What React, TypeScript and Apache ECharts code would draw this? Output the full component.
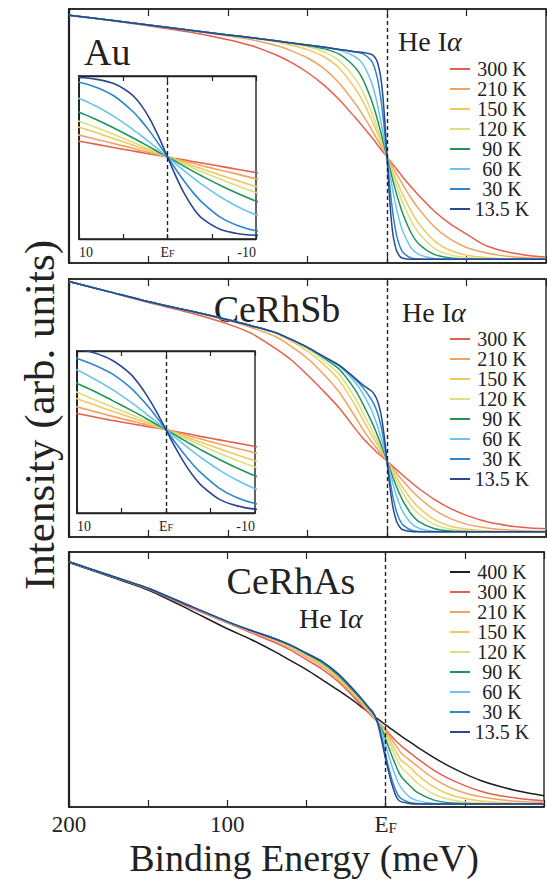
import React, { useEffect, useRef } from 'react';
import * as echarts from 'echarts';

// Binding energy (meV) sample points, shared by every curve
const energy = [200, 175, 150, 125, 100, 85, 70, 60, 50, 40, 30, 20, 15, 10, 8, 6, 4, 3, 2, 1, 0, -1, -2, -3, -4, -6, -8, -10, -15, -20, -30, -40, -50, -60, -70, -80, -90, -100];

const temps = ['300 K', '210 K', '150 K', '120 K', '90 K', '60 K', '30 K', '13.5 K'];
const tempsAs = ['400 K', '300 K', '210 K', '150 K', '120 K', '90 K', '60 K', '30 K', '13.5 K'];

// Au (intensity, arb. units)
const au300 = [0.975, 0.956, 0.934, 0.910, 0.879, 0.855, 0.820, 0.789, 0.750, 0.702, 0.643, 0.573, 0.536, 0.498, 0.482, 0.465, 0.449, 0.441, 0.433, 0.426, 0.418, 0.409, 0.402, 0.393, 0.386, 0.370, 0.354, 0.338, 0.301, 0.266, 0.203, 0.153, 0.114, 0.075, 0.052, 0.038, 0.029, 0.024];
const au210 = [0.975, 0.957, 0.937, 0.916, 0.894, 0.879, 0.857, 0.835, 0.807, 0.767, 0.708, 0.628, 0.581, 0.529, 0.507, 0.485, 0.463, 0.451, 0.440, 0.429, 0.418, 0.406, 0.395, 0.384, 0.372, 0.350, 0.329, 0.307, 0.257, 0.213, 0.141, 0.093, 0.061, 0.043, 0.031, 0.024, 0.020, 0.018];
const au150 = [0.975, 0.957, 0.937, 0.917, 0.898, 0.886, 0.871, 0.857, 0.840, 0.813, 0.767, 0.687, 0.634, 0.569, 0.541, 0.510, 0.480, 0.464, 0.449, 0.433, 0.418, 0.402, 0.386, 0.371, 0.355, 0.325, 0.296, 0.268, 0.206, 0.155, 0.086, 0.049, 0.031, 0.023, 0.018, 0.017, 0.016, 0.015];
const au120 = [0.975, 0.957, 0.937, 0.917, 0.898, 0.886, 0.874, 0.863, 0.851, 0.832, 0.796, 0.726, 0.672, 0.600, 0.567, 0.531, 0.494, 0.475, 0.456, 0.437, 0.418, 0.398, 0.379, 0.359, 0.341, 0.304, 0.269, 0.237, 0.168, 0.118, 0.057, 0.032, 0.022, 0.018, 0.016, 0.015, 0.015, 0.015];
const au90 = [0.975, 0.957, 0.937, 0.917, 0.898, 0.887, 0.875, 0.866, 0.856, 0.844, 0.822, 0.770, 0.721, 0.645, 0.607, 0.564, 0.517, 0.493, 0.468, 0.442, 0.418, 0.393, 0.367, 0.342, 0.318, 0.272, 0.230, 0.193, 0.121, 0.075, 0.033, 0.020, 0.016, 0.015, 0.015, 0.015, 0.015, 0.015];
const au60 = [0.975, 0.957, 0.937, 0.917, 0.898, 0.887, 0.875, 0.866, 0.858, 0.849, 0.838, 0.812, 0.782, 0.716, 0.675, 0.623, 0.561, 0.527, 0.492, 0.455, 0.418, 0.380, 0.343, 0.308, 0.274, 0.214, 0.163, 0.124, 0.061, 0.034, 0.018, 0.016, 0.015, 0.015, 0.015, 0.015, 0.015, 0.015];
const au30 = [0.975, 0.957, 0.937, 0.917, 0.898, 0.887, 0.875, 0.866, 0.858, 0.850, 0.841, 0.831, 0.823, 0.798, 0.772, 0.727, 0.653, 0.604, 0.548, 0.484, 0.418, 0.351, 0.288, 0.231, 0.183, 0.110, 0.067, 0.042, 0.020, 0.016, 0.015, 0.015, 0.015, 0.015, 0.015, 0.015, 0.015, 0.015];
const au13 = [0.975, 0.957, 0.937, 0.917, 0.898, 0.887, 0.875, 0.866, 0.858, 0.850, 0.841, 0.832, 0.829, 0.822, 0.813, 0.790, 0.734, 0.683, 0.612, 0.521, 0.418, 0.314, 0.223, 0.152, 0.102, 0.048, 0.027, 0.019, 0.015, 0.015, 0.015, 0.015, 0.015, 0.015, 0.015, 0.015, 0.015, 0.015];

// CeRhSb
const sb300 = [0.990, 0.950, 0.909, 0.871, 0.825, 0.788, 0.730, 0.685, 0.628, 0.566, 0.500, 0.420, 0.382, 0.350, 0.338, 0.326, 0.316, 0.311, 0.305, 0.301, 0.295, 0.289, 0.284, 0.278, 0.272, 0.261, 0.250, 0.239, 0.213, 0.188, 0.145, 0.110, 0.084, 0.064, 0.050, 0.041, 0.035, 0.032];
const sb210 = [0.990, 0.951, 0.912, 0.877, 0.839, 0.811, 0.776, 0.738, 0.692, 0.632, 0.561, 0.466, 0.416, 0.372, 0.356, 0.340, 0.325, 0.318, 0.310, 0.303, 0.295, 0.287, 0.279, 0.271, 0.263, 0.247, 0.232, 0.218, 0.183, 0.153, 0.104, 0.071, 0.050, 0.038, 0.030, 0.026, 0.023, 0.022];
const sb150 = [0.990, 0.951, 0.912, 0.878, 0.842, 0.817, 0.788, 0.758, 0.720, 0.670, 0.607, 0.510, 0.453, 0.399, 0.378, 0.357, 0.337, 0.326, 0.316, 0.305, 0.295, 0.284, 0.273, 0.262, 0.252, 0.231, 0.210, 0.191, 0.148, 0.114, 0.067, 0.042, 0.031, 0.025, 0.022, 0.021, 0.020, 0.020];
const sb120 = [0.990, 0.951, 0.912, 0.878, 0.842, 0.818, 0.791, 0.763, 0.729, 0.685, 0.630, 0.538, 0.480, 0.421, 0.396, 0.371, 0.347, 0.334, 0.321, 0.308, 0.295, 0.281, 0.268, 0.255, 0.242, 0.216, 0.192, 0.170, 0.123, 0.089, 0.048, 0.031, 0.024, 0.022, 0.020, 0.020, 0.020, 0.020];
const sb90 = [0.990, 0.951, 0.912, 0.878, 0.842, 0.818, 0.792, 0.765, 0.734, 0.695, 0.650, 0.570, 0.514, 0.451, 0.424, 0.393, 0.362, 0.346, 0.329, 0.312, 0.295, 0.278, 0.260, 0.243, 0.226, 0.195, 0.166, 0.140, 0.091, 0.060, 0.032, 0.023, 0.021, 0.020, 0.020, 0.020, 0.020, 0.020];
const sb60 = [0.990, 0.951, 0.912, 0.878, 0.842, 0.818, 0.792, 0.765, 0.735, 0.699, 0.662, 0.599, 0.554, 0.496, 0.465, 0.430, 0.389, 0.367, 0.343, 0.320, 0.295, 0.270, 0.246, 0.222, 0.200, 0.159, 0.125, 0.097, 0.054, 0.034, 0.022, 0.020, 0.020, 0.020, 0.020, 0.020, 0.020, 0.020];
const sb30 = [0.990, 0.951, 0.912, 0.878, 0.842, 0.818, 0.792, 0.765, 0.735, 0.700, 0.665, 0.612, 0.578, 0.535, 0.512, 0.482, 0.437, 0.407, 0.373, 0.335, 0.295, 0.254, 0.215, 0.179, 0.148, 0.098, 0.066, 0.047, 0.027, 0.021, 0.020, 0.020, 0.020, 0.020, 0.020, 0.020, 0.020, 0.020];
const sb13 = [0.990, 0.951, 0.912, 0.878, 0.842, 0.818, 0.792, 0.765, 0.735, 0.700, 0.665, 0.615, 0.589, 0.567, 0.553, 0.528, 0.483, 0.447, 0.403, 0.352, 0.295, 0.238, 0.186, 0.142, 0.107, 0.061, 0.039, 0.028, 0.021, 0.020, 0.020, 0.020, 0.020, 0.020, 0.020, 0.020, 0.020, 0.020];

// CeRhAs
const as400 = [0.959, 0.906, 0.851, 0.777, 0.699, 0.657, 0.609, 0.574, 0.539, 0.499, 0.458, 0.415, 0.391, 0.368, 0.359, 0.350, 0.341, 0.336, 0.331, 0.326, 0.322, 0.318, 0.313, 0.308, 0.304, 0.295, 0.286, 0.277, 0.256, 0.235, 0.196, 0.160, 0.130, 0.104, 0.084, 0.068, 0.055, 0.044];
const as300 = [0.962, 0.909, 0.855, 0.786, 0.722, 0.683, 0.645, 0.615, 0.578, 0.540, 0.492, 0.430, 0.397, 0.364, 0.351, 0.339, 0.328, 0.322, 0.316, 0.310, 0.303, 0.296, 0.289, 0.282, 0.275, 0.262, 0.250, 0.239, 0.214, 0.190, 0.146, 0.111, 0.084, 0.062, 0.047, 0.037, 0.029, 0.024];
const as210 = [0.962, 0.910, 0.857, 0.790, 0.724, 0.688, 0.653, 0.624, 0.588, 0.550, 0.500, 0.438, 0.405, 0.370, 0.355, 0.341, 0.328, 0.321, 0.314, 0.306, 0.297, 0.289, 0.280, 0.271, 0.262, 0.245, 0.227, 0.210, 0.185, 0.160, 0.113, 0.078, 0.055, 0.040, 0.030, 0.024, 0.020, 0.018];
const as150 = [0.962, 0.910, 0.858, 0.791, 0.725, 0.690, 0.656, 0.628, 0.593, 0.556, 0.506, 0.443, 0.410, 0.374, 0.358, 0.342, 0.327, 0.319, 0.310, 0.300, 0.290, 0.279, 0.268, 0.257, 0.245, 0.222, 0.200, 0.182, 0.158, 0.127, 0.080, 0.050, 0.033, 0.024, 0.019, 0.016, 0.014, 0.013];
const as120 = [0.962, 0.910, 0.858, 0.792, 0.726, 0.691, 0.658, 0.631, 0.597, 0.561, 0.512, 0.448, 0.414, 0.377, 0.360, 0.343, 0.326, 0.316, 0.305, 0.293, 0.281, 0.268, 0.255, 0.242, 0.228, 0.201, 0.176, 0.155, 0.125, 0.094, 0.052, 0.030, 0.020, 0.016, 0.014, 0.013, 0.012, 0.012];
const as90 = [0.962, 0.910, 0.858, 0.792, 0.727, 0.692, 0.659, 0.633, 0.600, 0.565, 0.516, 0.452, 0.418, 0.380, 0.363, 0.344, 0.323, 0.311, 0.298, 0.283, 0.266, 0.249, 0.232, 0.216, 0.200, 0.169, 0.140, 0.118, 0.085, 0.057, 0.028, 0.017, 0.014, 0.013, 0.012, 0.012, 0.012, 0.012];
const as60 = [0.962, 0.910, 0.858, 0.792, 0.727, 0.692, 0.660, 0.634, 0.602, 0.568, 0.520, 0.456, 0.421, 0.382, 0.366, 0.345, 0.318, 0.302, 0.284, 0.264, 0.242, 0.221, 0.200, 0.180, 0.160, 0.124, 0.095, 0.073, 0.040, 0.025, 0.015, 0.013, 0.012, 0.012, 0.012, 0.012, 0.012, 0.012];
const as30 = [0.962, 0.910, 0.858, 0.792, 0.727, 0.692, 0.660, 0.635, 0.603, 0.570, 0.522, 0.458, 0.423, 0.384, 0.369, 0.346, 0.311, 0.288, 0.262, 0.234, 0.205, 0.178, 0.152, 0.128, 0.106, 0.070, 0.045, 0.032, 0.018, 0.014, 0.012, 0.012, 0.012, 0.012, 0.012, 0.012, 0.012, 0.012];
const as13 = [0.962, 0.910, 0.858, 0.792, 0.727, 0.692, 0.660, 0.635, 0.603, 0.570, 0.522, 0.458, 0.423, 0.385, 0.372, 0.347, 0.302, 0.275, 0.245, 0.216, 0.188, 0.160, 0.135, 0.110, 0.088, 0.050, 0.028, 0.020, 0.014, 0.012, 0.012, 0.012, 0.012, 0.012, 0.012, 0.012, 0.012, 0.012];

const mainTickLabels = [200, 100, 0];
const insetTickLabels = [10, 0, -10];

const colors: Record<string, string> = {
  '400 K': '#1e1e1e',
  '300 K': '#e4604e',
  '210 K': '#f2a25e',
  '150 K': '#f0c95e',
  '120 K': '#dcdf7c',
  '90 K': '#1f9458',
  '60 K': '#6cc4ec',
  '30 K': '#2c86cc',
  '13.5 K': '#2a4790',
};

const serif = 'Liberation Serif';
const ink = '#222';

export default function App() {
  const ref = useRef<HTMLDivElement>(null);

  useEffect(() => {
    if (!ref.current) return;
    const chart = echarts.init(ref.current, null, { renderer: 'svg' });

    const auSet = [au300, au210, au150, au120, au90, au60, au30, au13];
    const sbSet = [sb300, sb210, sb150, sb120, sb90, sb60, sb30, sb13];
    const asSet = [as400, as300, as210, as150, as120, as90, as60, as30, as13];

    const efMark = {
      silent: true,
      symbol: ['none', 'none'],
      label: { show: false },
      lineStyle: { color: ink, type: [4, 3], width: 1.4 },
      emphasis: { disabled: true },
      data: [{ xAxis: 0 }],
    };

    const lines = (sets: number[][], names: string[], xi: number, yi: number, width: number) =>
      sets.map((vals, k) => ({
        type: 'line',
        name: names[k],
        xAxisIndex: xi,
        yAxisIndex: yi,
        data: energy.map((e, i) => [e, vals[i]]),
        showSymbol: false,
        symbol: 'none',
        smooth: 0.25,
        color: colors[names[k]],
        lineStyle: { color: colors[names[k]], width },
        silent: true,
        emphasis: { disabled: true },
        markLine: k === sets.length - 1 ? efMark : undefined,
      }));

    const efRich = (big: number, small: number) => ({
      e: { fontSize: big, fontFamily: serif, color: ink, lineHeight: big },
      f: { fontSize: small, fontFamily: serif, color: ink, lineHeight: big, verticalAlign: 'bottom', padding: [0, 0, 1, 0] },
    });

    const tick = (len: number) => ({ show: true, inside: true, length: len, lineStyle: { color: ink, width: 1.2 } });
    const axLine = (w: number) => ({ show: true, onZero: false, lineStyle: { color: ink, width: w } });

    const mainX = (gi: number, pos: string, labels: boolean) => ({
      type: 'value', gridIndex: gi, position: pos, min: -100, max: 200, interval: 50, inverse: true,
      axisLine: axLine(1.6), axisTick: tick(7), splitLine: { show: false },
      axisLabel: labels
        ? {
            show: true, margin: 6, color: ink, fontFamily: serif, fontSize: 23,
            showMinLabel: true, showMaxLabel: true,
            formatter: (v: number) => (mainTickLabels.includes(v) ? (v === 0 ? '{e|E}{f|F}' : String(v)) : ''),
            rich: efRich(23, 15),
          }
        : { show: false },
    });

    const insetX = (gi: number, pos: string, labels: boolean) => ({
      type: 'value', gridIndex: gi, position: pos, min: -10, max: 10, interval: 5, inverse: true,
      axisLine: axLine(1.4), axisTick: tick(5), splitLine: { show: false },
      axisLabel: labels
        ? {
            show: true, margin: 6, color: ink, fontFamily: serif, fontSize: 14,
            showMinLabel: true, showMaxLabel: true,
            alignMinLabel: 'right', alignMaxLabel: 'left',
            formatter: (v: number) => (insetTickLabels.includes(v) ? (v === 0 ? '{e|E}{f|F}' : String(v)) : ''),
            rich: efRich(14, 10),
          }
        : { show: false },
    });

    const yAx = (gi: number, min: number, max: number, w: number) => ({
      type: 'value', gridIndex: gi, min, max,
      axisLine: axLine(w), axisTick: { show: false }, axisLabel: { show: false }, splitLine: { show: false },
    });

    const legendBase = {
      orient: 'vertical', left: 450, itemWidth: 20, itemHeight: 2, itemGap: 0, icon: 'rect', padding: 0,
      selectedMode: false, formatter: '{t|{name}}',
    };
    const legendText = (lh: number) => ({
      fontFamily: serif, fontSize: 20, color: ink,
      rich: { t: { width: 54, align: 'center', fontSize: 20, lineHeight: lh, fontFamily: serif, color: ink } },
    });

    const heIa = (x: number, y: number) => ({
      type: 'text', x, y,
      style: {
        text: '{n|He I}{a|α}',
        rich: {
          n: { fontSize: 28, fontFamily: serif, fill: ink, color: ink },
          a: { fontSize: 28, fontFamily: serif, fontStyle: 'italic', fill: ink, color: ink },
        },
        align: 'left', verticalAlign: 'middle', textAlign: 'left', textVerticalAlign: 'middle',
      },
    });
    const label = (text: string, x: number, y: number, size: number, align: string, rot = 0) => ({
      type: 'text', x, y, rotation: rot,
      style: {
        text, fontSize: size, fontFamily: serif, font: `${size}px "${serif}"`, fill: ink,
        align, verticalAlign: 'middle', textAlign: align, textVerticalAlign: 'middle',
      },
    });

    const gridStyle = { show: true, borderColor: ink, borderWidth: 1.4, containLabel: false };

    chart.setOption({
      animation: false,
      backgroundColor: '#fff',
      textStyle: { fontFamily: serif },
      grid: [
        { ...gridStyle, left: 69, top: 9, width: 477, height: 254 },
        { ...gridStyle, left: 69, top: 279, width: 477, height: 258 },
        { ...gridStyle, left: 69, top: 552, width: 477, height: 255 },
        { ...gridStyle, left: 79, top: 76, width: 177, height: 163, backgroundColor: '#fff' },
        { ...gridStyle, left: 77, top: 351, width: 178, height: 162, backgroundColor: '#fff' },
      ],
      xAxis: [
        mainX(0, 'bottom', false), mainX(0, 'top', false),
        mainX(1, 'bottom', false), mainX(1, 'top', false),
        mainX(2, 'bottom', true), mainX(2, 'top', false),
        insetX(3, 'bottom', true), insetX(3, 'top', false),
        insetX(4, 'bottom', true), insetX(4, 'top', false),
      ],
      yAxis: [
        yAx(0, 0, 1, 2.2), yAx(1, 0, 1, 2.2), yAx(2, 0, 1, 2.2),
        yAx(3, 0, 0.83, 1.8), yAx(4, 0.015, 0.56, 1.8),
      ],
      legend: [
        { ...legendBase, top: 59, data: temps, textStyle: legendText(21.4) },
        { ...legendBase, top: 329, data: temps, textStyle: legendText(21.4) },
        { ...legendBase, top: 562, data: tempsAs, textStyle: legendText(21.9) },
      ],
      graphic: [
        label('Au', 84, 52, 38, 'left'),
        label('CeRhSb', 277, 309, 38, 'center'),
        label('CeRhAs', 291, 581, 38, 'center'),
        heIa(398, 41),
        heIa(402, 312),
        heIa(299, 618),
        label('Binding Energy (meV)', 304, 858, 38, 'center'),
        label('Intensity (arb. units)', 39, 415, 43, 'center', Math.PI / 2),
      ],
      series: [
        ...lines(auSet, temps, 0, 0, 1.5),
        ...lines(sbSet, temps, 2, 1, 1.5),
        ...lines(asSet, tempsAs, 4, 2, 1.5),
        ...lines(auSet, temps, 6, 3, 1.6),
        ...lines(sbSet, temps, 8, 4, 1.6),
      ],
    });

    return () => chart.dispose();
  }, []);

  return (
    <div
      ref={ref}
      style={{ position: 'fixed', left: 0, top: 0, width: 547, height: 880, background: '#fff' }}
    />
  );
}
